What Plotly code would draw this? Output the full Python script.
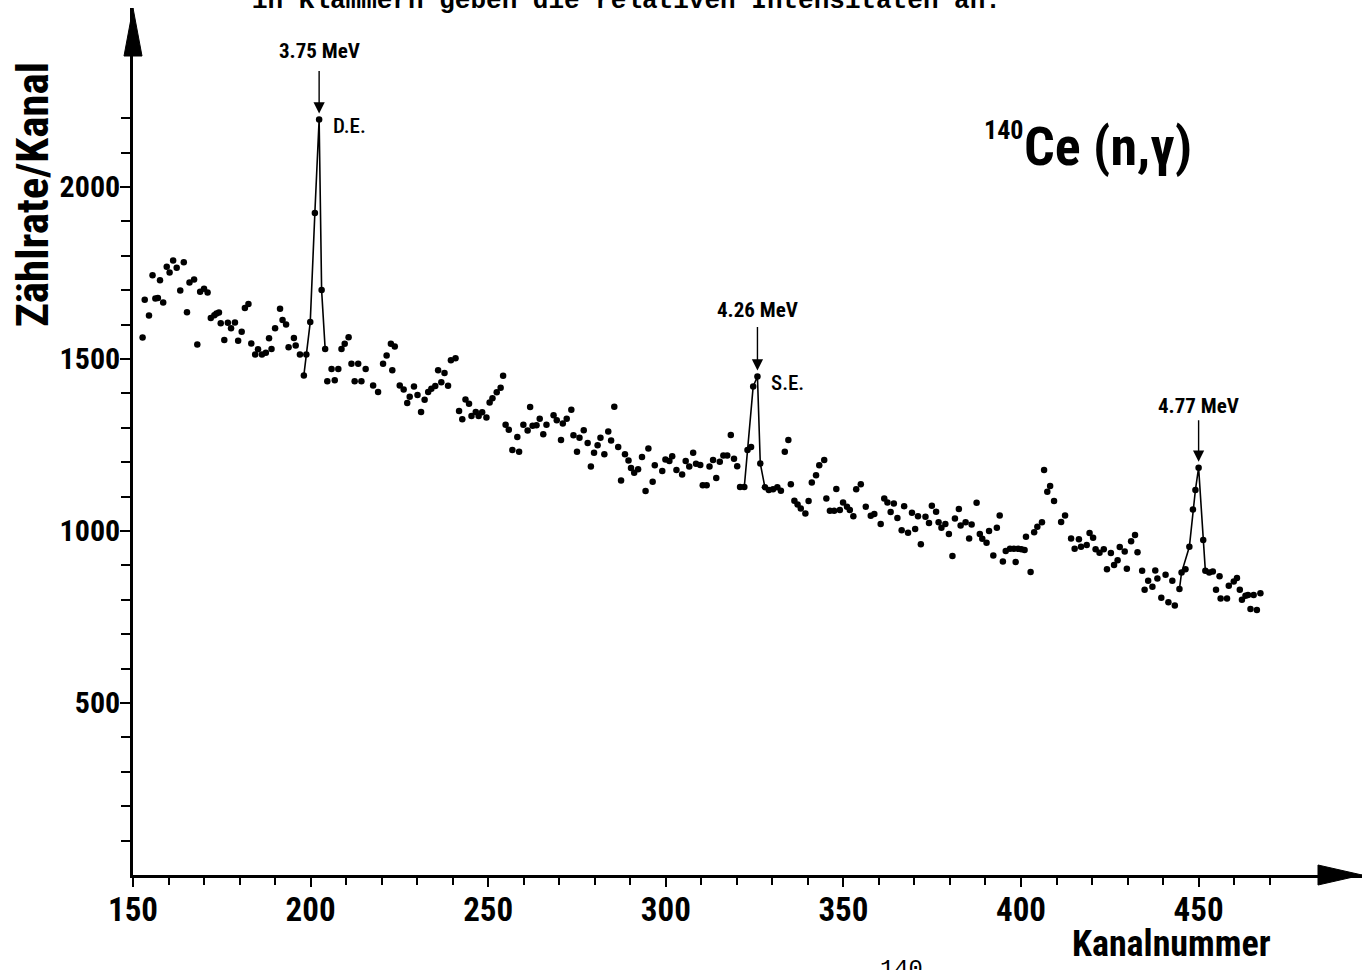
import plotly.graph_objects as go

# ---- data ----
channel = [
152.7,153.3,154.5,155.5,156.3,157.0,157.6,158.5,159.5,160.3,161.3,162.3,163.3,164.3,165.2,165.9,167.2,168.1,
168.9,170.0,171.0,171.9,172.9,173.5,174.2,174.7,175.7,176.7,177.6,178.7,179.6,180.6,181.5,182.5,183.3,184.4,
185.2,186.3,187.4,188.3,189.0,190.0,191.4,192.1,193.1,193.8,195.3,195.8,197.0,198.1,198.8,199.9,201.2,202.4,
203.1,204.1,204.7,205.9,206.8,207.8,208.7,209.6,210.7,211.5,212.4,213.4,214.3,215.5,217.6,219.0,220.4,221.4,
222.6,223.0,223.7,225.1,226.2,227.2,227.9,229.1,230.1,231.1,232.1,233.1,234.0,235.1,235.9,236.8,237.7,238.7,
239.5,240.8,241.8,242.7,243.6,244.6,245.3,246.5,247.3,248.3,249.5,250.4,251.2,252.4,253.5,254.2,254.9,255.8,
256.8,258.2,258.7,259.9,261.1,261.8,262.5,263.6,264.5,265.5,266.4,268.4,269.3,270.5,271.0,272.1,273.4,274.0,
275.0,275.7,276.9,278.0,278.9,279.8,280.8,281.6,282.7,283.8,284.6,285.5,286.6,287.4,288.5,289.5,290.2,291.1,
292.2,293.3,294.3,295.1,296.3,296.9,299.0,299.9,301.0,301.8,303.0,304.6,305.6,306.6,307.7,308.5,309.7,310.4,
311.5,312.3,313.3,314.2,315.2,316.2,317.3,318.3,319.2,320.1,320.9,322.1,323.0,324.0,324.6,325.8,326.6,327.9,
329.0,330.2,331.4,332.4,333.5,334.5,335.2,336.2,337.1,338.0,339.3,340.2,341.1,342.3,343.2,344.6,345.2,346.2,
347.4,348.0,349.0,349.9,351.0,351.8,352.8,353.6,354.9,356.3,357.7,358.7,360.5,361.5,362.4,363.3,364.2,365.2,
366.4,367.1,368.2,369.3,370.2,371.0,371.8,373.1,374.1,374.9,376.1,376.8,377.6,378.7,379.7,380.7,381.4,382.5,
383.0,384.4,385.4,386.1,387.5,388.4,389.1,390.3,391.0,392.2,393.2,394.0,394.9,395.7,396.9,398.0,398.5,399.2,
400.1,401.0,401.4,402.7,403.7,404.6,405.9,406.5,407.4,408.2,409.3,411.3,412.4,414.1,415.1,416.3,416.9,418.5,
419.3,420.3,421.0,422.1,423.3,424.2,425.3,426.2,427.2,427.8,429.2,429.8,431.0,432.1,432.8,434.1,434.8,435.8,
437.0,437.8,438.4,439.5,440.7,441.5,442.6,443.3,444.6,445.2,446.3,447.4,448.4,449.1,450.0,451.3,451.9,453.0,
454.0,454.9,455.9,456.2,458.0,458.5,459.9,460.8,461.6,462.2,463.2,463.9,464.6,465.5,466.4,467.4,
]
counts = [
1562,1672,1626,1743,1676,1677,1729,1664,1768,1751,1786,1765,1699,1781,1636,1722,1731,1542,
1695,1704,1693,1619,1627,1632,1635,1604,1555,1605,1589,1606,1553,1579,1648,1660,1545,1513,
1528,1513,1518,1560,1529,1589,1646,1613,1600,1534,1561,1539,1513,1452,1513,1607,1924,2196,
1700,1529,1435,1471,1438,1471,1529,1544,1563,1486,1435,1486,1435,1471,1423,1404,1486,1510,
1544,1467,1536,1423,1411,1372,1390,1420,1395,1346,1381,1404,1413,1421,1467,1432,1459,1422,
1496,1502,1349,1325,1382,1370,1334,1346,1334,1345,1330,1373,1386,1403,1416,1451,1309,1294,
1235,1273,1230,1309,1292,1360,1306,1307,1326,1281,1309,1336,1322,1264,1312,1326,1352,1278,
1230,1271,1293,1256,1187,1227,1249,1271,1223,1289,1263,1361,1244,1147,1223,1205,1183,1169,
1179,1215,1116,1240,1143,1191,1174,1208,1203,1217,1177,1164,1203,1187,1227,1195,1192,1133,
1133,1187,1206,1154,1201,1219,1219,1279,1210,1188,1128,1128,1235,1244,1420,1449,1196,1127,
1119,1121,1127,1117,1230,1264,1136,1088,1077,1065,1051,1087,1141,1162,1191,1206,1094,1059,
1059,1122,1061,1083,1070,1061,1043,1121,1136,1070,1044,1049,1020,1094,1083,1055,1080,1038,
1002,1072,995,1053,1006,1043,961,1041,1023,1073,1056,1025,1009,1020,991,927,1036,1064,
1016,1025,978,1019,1082,991,977,966,1000,929,1009,1045,911,942,948,948,910,948,
947,945,983,881,996,1012,1025,1177,1114,1131,1087,1026,1045,978,948,976,954,959,
994,980,947,937,947,889,936,901,915,953,940,890,970,988,938,884,829,855,
838,885,862,806,873,793,855,783,831,879,889,954,1062,1119,1184,974,884,879,
882,829,868,804,804,841,853,863,829,800,812,814,773,814,770,819,
]

# hand-drawn lines through the three peaks
peak1_channel = [198.1, 199.9, 201.2, 202.4, 203.1, 204.1]
peak1_counts = [1452, 1607, 1924, 2196, 1700, 1529]
peak2_channel = [322.1, 323.0, 324.6, 325.8, 326.6, 327.9]
peak2_counts = [1128, 1235, 1420, 1449, 1196, 1127]
peak3_channel = [444.6, 445.2, 447.4, 448.4, 449.1, 450.0, 451.3, 451.9]
peak3_counts = [831, 879, 954, 1062, 1119, 1184, 974, 884]

peak_energy = ["3.75 MeV", "4.26 MeV", "4.77 MeV"]
peak_escape = ["D.E.", "S.E.", ""]

x_ticks = [150, 200, 250, 300, 350, 400, 450]
y_ticks = [500, 1000, 1500, 2000]
x_minor = [v for v in range(160, 480, 10) if v % 50]
y_minor = [v for v in range(100, 2300, 100) if v % 500]

COND = "Roboto Condensed, Roboto, Liberation Sans, sans-serif"
MONO = "Liberation Mono, DejaVu Sans Mono, monospace"

fig = go.Figure()
for px, py in [(peak1_channel, peak1_counts), (peak2_channel, peak2_counts), (peak3_channel, peak3_counts)]:
    fig.add_trace(go.Scatter(x=px, y=py, mode="lines", line=dict(color="black", width=1.6),
                             showlegend=False, hoverinfo="skip"))
fig.add_trace(go.Scatter(x=channel, y=counts, mode="markers",
                         marker=dict(color="black", size=6.5), showlegend=False))

X0, X1 = 150, 496.0
Y0, Y1 = 0, 2520

fig.update_layout(
    width=1362, height=970,
    margin=dict(l=133, r=0, t=8, b=95),
    paper_bgcolor="white", plot_bgcolor="white",
    xaxis=dict(range=[X0, X1], showgrid=False, zeroline=False,
               showline=True, linecolor="black", linewidth=2.5,
               tickmode="array", tickvals=x_ticks, ticktext=[str(v) for v in x_ticks],
               ticks="outside", ticklen=9, tickwidth=2, tickcolor="black",
               ticklabelstandoff=-5,
               tickfont=dict(family=COND, size=33, color="black", weight="bold"),
               minor=dict(tickmode="array", tickvals=x_minor, ticks="outside",
                          ticklen=7, tickwidth=1.5, tickcolor="black", showgrid=False)),
    yaxis=dict(range=[Y0, Y1], showgrid=False, zeroline=False,
               showline=True, linecolor="black", linewidth=2.5,
               tickmode="array", tickvals=y_ticks, ticktext=[str(v) for v in y_ticks],
               ticks="outside", ticklen=10, tickwidth=2, tickcolor="black",
               ticklabelstandoff=-6,
               tickfont=dict(family=COND, size=30, color="black", weight="bold"),
               minor=dict(tickmode="array", tickvals=y_minor, ticks="outside",
                          ticklen=9, tickwidth=1.5, tickcolor="black", showgrid=False)),
)

# axis arrow heads (paper coordinates of the plot area)
pw, ph = 1229.0, 867.0
fig.add_shape(type="path", xref="paper", yref="paper",
              path=f"M 0,1 L {-9/pw},{1-48/ph} L {9/pw},{1-48/ph} Z",
              fillcolor="black", line=dict(color="black", width=1))
fig.add_shape(type="path", xref="paper", yref="paper",
              path=f"M 1,0 L {1-44/pw},{10/ph} L {1-44/pw},{-10/ph} Z",
              fillcolor="black", line=dict(color="black", width=1))


def px_to_paper(xp, yp):
    return (xp - 133) / pw, (875 - yp) / ph


# peak labels
peaks = [(peak1_channel[3], peak1_counts[3], 68, -50),
         (peak2_channel[3], peak2_counts[3], 66, -51),
         (peak3_channel[5], peak3_counts[5], 62, -49)]
for (pxv, pyv, ys, ay), en, esc in zip(peaks, peak_energy, peak_escape):
    fig.add_annotation(x=pxv, y=pyv, xref="x", yref="y", text=en, showarrow=False,
                       xanchor="center", yanchor="middle", yshift=ys,
                       font=dict(family=COND, size=21, color="black", weight="bold"))
    fig.add_annotation(x=pxv, y=pyv, xref="x", yref="y", text="", showarrow=True,
                       ax=0, ay=ay, standoff=6, arrowhead=2, arrowsize=1.6,
                       arrowwidth=1.4, arrowcolor="black")
    if esc:
        fig.add_annotation(x=pxv, y=pyv, xref="x", yref="y", text=esc, showarrow=False,
                           xanchor="left", yanchor="middle", xshift=12, yshift=-7,
                           font=dict(family=COND, size=21, color="black", weight=500))

# title
tx, ty = px_to_paper(1003, 130)
fig.add_annotation(x=tx, y=ty, xref="paper", yref="paper", text="140", showarrow=False,
                   xanchor="center", yanchor="middle",
                   font=dict(family=COND, size=26, color="black", weight="bold"))
tx, ty = px_to_paper(1022, 146)
fig.add_annotation(x=tx, y=ty, xref="paper", yref="paper", text="Ce (n,γ)", showarrow=False,
                   xanchor="left", yanchor="middle",
                   font=dict(family=COND, size=54, color="black", weight="bold"))

# axis titles
tx, ty = px_to_paper(32, 195)
fig.add_annotation(x=tx, y=ty, xref="paper", yref="paper",
                   text="Zählrate/Kanal", showarrow=False, textangle=-90,
                   xanchor="center", yanchor="middle",
                   font=dict(family=COND, size=45, color="black", weight="bold"))
tx, ty = px_to_paper(1171, 944)
fig.add_annotation(x=tx, y=ty, xref="paper", yref="paper",
                   text="Kanalnummer", showarrow=False,
                   xanchor="center", yanchor="middle",
                   font=dict(family=COND, size=36, color="black", weight="bold"))

# clipped caption fragments of the scanned page
tx, ty = px_to_paper(250, 1)
fig.add_annotation(x=tx, y=ty, xref="paper", yref="paper",
                   xanchor="left", yanchor="middle",
                   text="in Klammern geben die relativen Intensitäten an.", showarrow=False,
                   font=dict(family=MONO, size=26, color="black", weight="bold"))
tx, ty = px_to_paper(878, 954)
fig.add_annotation(x=tx, y=ty, xref="paper", yref="paper",
                   xanchor="left", yanchor="top",
                   text="<sup>140</sup>", showarrow=False,
                   font=dict(family=MONO, size=34, color="black"))

fig.write_html("out.html")
